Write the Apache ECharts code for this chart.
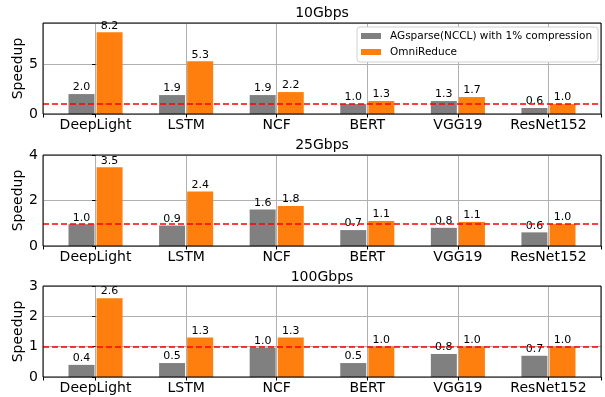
<!DOCTYPE html>
<html>
<head>
<meta charset="utf-8">
<script src="https://cdn.jsdelivr.net/npm/echarts@6/dist/echarts.min.js"></script>
<style>
  html, body { margin: 0; padding: 0; background: #fff; }
  #chart { width: 605px; height: 397px; }
</style>
</head>
<body>
<div id="chart"></div>
<script>
// models on the x axis
const categories = ['DeepLight', 'LSTM', 'NCF', 'BERT', 'VGG19', 'ResNet152']
const panelTitles = ['10Gbps', '25Gbps', '100Gbps']
const seriesNames = ['AGsparse(NCCL) with 1% compression', 'OmniReduce']

// speedup per model, one array per bandwidth
const agsparse10 = [2.0, 1.9, 1.9, 1.0, 1.3, 0.6]
const omni10 = [8.2, 5.3, 2.2, 1.3, 1.7, 1.0]
const agsparse25 = [0.96, 0.9, 1.6, 0.7, 0.8, 0.6]
const omni25 = [3.46, 2.4, 1.76, 1.1, 1.06, 0.97]
const agsparse100 = [0.4, 0.46, 0.97, 0.46, 0.76, 0.7]
const omni100 = [2.6, 1.3, 1.3, 1.0, 1.0, 1.0]

// y axis ticks per panel
const yMaxList = [9.13, 4, 3]
const yStepList = [5, 2, 1]
const baseline = 1

const chart = echarts.init(document.getElementById('chart'))
const font = 'DejaVu Sans'
const panelTops = [23, 155, 286]
const titleTops = [6, 138, 270]
const gray = '#808080'
const orange = '#ff7f0e'
const gridColor = '#b0b0b0'

const agData = [agsparse10, agsparse25, agsparse100]
const omData = [omni10, omni25, omni100]

const grid = []
const xAxis = []
const yAxis = []
const series = []
const title = []

const barLabel = {
  show: true,
  position: 'top',
  distance: 1,
  fontFamily: font,
  fontSize: 11,
  color: '#000',
  formatter: p => p.value[1].toFixed(1)
}

panelTitles.forEach((name, k) => {
  title.push({
    text: name,
    left: 322,
    top: titleTops[k],
    textAlign: 'center',
    padding: 0,
    textStyle: { fontFamily: font, fontSize: 14, fontWeight: 'normal', color: '#000' }
  })
  grid.push({
    left: 43, top: panelTops[k], width: 558, height: 91,
    outerBoundsMode: 'none',
    show: true, borderColor: '#000', borderWidth: 1,
    backgroundColor: 'transparent', z: 10
  })
  xAxis.push({
    type: 'value',
    gridIndex: k,
    min: -0.58,
    max: 5.58,
    minInterval: 1,
    maxInterval: 1,
    axisLine: { show: false },
    axisTick: { show: true, length: 3.5, lineStyle: { color: '#000' } },
    axisLabel: {
      fontFamily: font, fontSize: 14, color: '#000', margin: 4,
      formatter: v => (Math.abs(v - Math.round(v)) < 1e-6 ? categories[Math.round(v)] || '' : '')
    },
    splitLine: { show: true, lineStyle: { color: gridColor, width: 1 } }
  })
  yAxis.push({
    type: 'value',
    gridIndex: k,
    min: 0,
    max: yMaxList[k],
    interval: yStepList[k],
    name: 'Speedup',
    nameLocation: 'middle',
    nameGap: 18,
    nameMoveOverlap: false,
    nameTextStyle: { fontFamily: font, fontSize: 14, color: '#000' },
    axisLine: { show: false },
    axisTick: { show: true, length: 3.5, lineStyle: { color: '#000' } },
    axisLabel: { fontFamily: font, fontSize: 14, color: '#000', margin: 5, showMaxLabel: k !== 0 },
    splitLine: { show: true, lineStyle: { color: gridColor, width: 1 } }
  })
  series.push({
    type: 'bar',
    name: seriesNames[0],
    xAxisIndex: k,
    yAxisIndex: k,
    data: agData[k].map((v, i) => [i, v]),
    barWidth: 26,
    barGap: '8%',
    itemStyle: { color: gray },
    label: barLabel
  })
  series.push({
    type: 'bar',
    name: seriesNames[1],
    xAxisIndex: k,
    yAxisIndex: k,
    data: omData[k].map((v, i) => [i, v]),
    barWidth: 26,
    barGap: '8%',
    itemStyle: { color: orange },
    label: barLabel,
    markLine: {
      silent: true,
      symbol: 'none',
      label: { show: false },
      lineStyle: { color: '#ff0000', type: [6, 3], width: 1.5 },
      data: [{ yAxis: baseline }]
    }
  })
})

chart.setOption({
  animation: false,
  backgroundColor: '#fff',
  title,
  legend: {
    data: seriesNames,
    orient: 'vertical',
    left: 357,
    top: 27,
    icon: 'rect',
    itemWidth: 20,
    itemHeight: 6,
    itemGap: 4,
    padding: [3, 6, 4, 4],
    backgroundColor: '#fff',
    borderColor: '#d0d0d0',
    borderWidth: 1,
    borderRadius: 3,
    textStyle: { fontFamily: font, fontSize: 10.5, color: '#000', lineHeight: 12, padding: [0, 0, 0, 4] },
    z: 20
  },
  grid,
  xAxis,
  yAxis,
  series
})
</script>
</body>
</html>
